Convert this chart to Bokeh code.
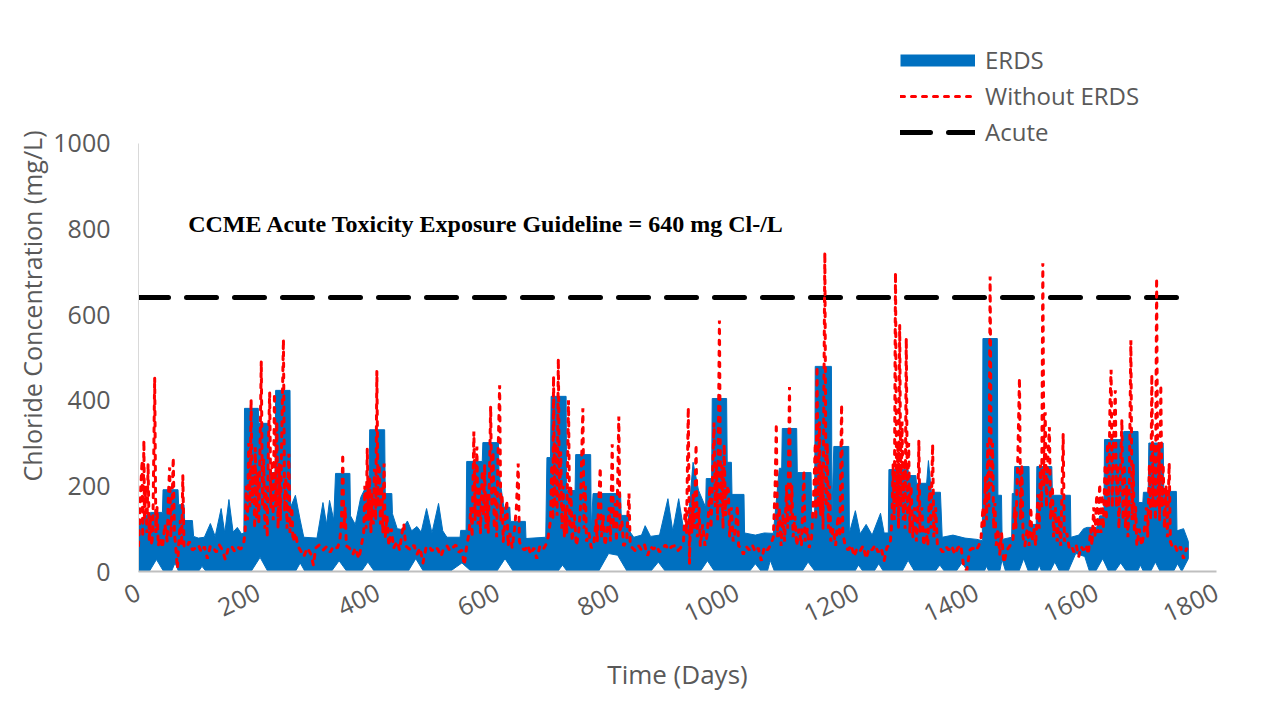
from bokeh.plotting import figure
from bokeh.models import Label, Legend, LegendItem, SingleIntervalTicker, Range1d
from bokeh.embed import file_html
from bokeh.resources import INLINE

# ---------------- data ----------------
# ERDS: upper edge of the blue band (day, mg/L)
erds_upper = [
    (0, 105), (12, 130), (20, 138), (40, 138), (41, 191), (66, 191), (67, 156), (76, 156),
    (77, 119), (90, 119), (92, 82), (100, 78), (110, 80), (120, 112), (128, 82), (138, 147),
    (144, 90), (151, 168), (158, 92), (165, 103), (172, 88), (176, 90), (177, 381), (200, 381),
    (201, 346), (217, 346), (218, 231), (228, 231), (229, 423), (253, 423), (254, 150), (262, 178),
    (270, 120), (276, 80), (298, 78), (308, 161), (314, 110), (319, 166), (326, 120), (329, 229),
    (353, 229), (354, 130), (362, 110), (371, 173), (385, 213), (386, 331), (411, 331), (412, 182),
    (423, 182), (424, 135), (432, 100), (440, 98), (449, 118), (456, 95), (465, 105), (472, 92),
    (481, 147), (490, 90), (501, 159), (508, 95), (515, 80), (537, 80), (538, 96), (547, 96),
    (548, 257), (574, 257), (575, 301), (601, 301), (602, 230), (610, 150), (620, 150), (621, 117),
    (646, 117), (647, 77), (680, 80), (682, 266), (688, 266), (689, 409), (714, 409), (715, 189),
    (729, 189), (730, 273), (755, 273), (756, 100), (759, 182), (805, 182), (806, 131), (818, 131),
    (819, 96), (827, 80), (840, 85), (846, 107), (855, 82), (870, 85), (884, 170), (892, 95),
    (902, 170), (910, 100), (918, 120), (926, 255), (935, 190), (947, 150), (948, 217), (957, 217),
    (958, 404), (982, 404), (983, 255), (990, 255), (991, 180), (1011, 180), (1012, 90), (1030, 85),
    (1045, 90), (1060, 89), (1070, 241), (1074, 241), (1075, 334), (1099, 334), (1100, 231),
    (1123, 231), (1124, 131), (1129, 131), (1130, 479), (1157, 479), (1158, 140), (1161, 292),
    (1186, 292), (1187, 90), (1197, 142), (1205, 88), (1215, 110), (1225, 85), (1239, 136),
    (1245, 90), (1252, 90), (1253, 238), (1285, 238), (1286, 224), (1298, 224), (1299, 206),
    (1316, 206), (1319, 259), (1324, 185), (1339, 185), (1342, 80), (1360, 85), (1380, 78),
    (1400, 75), (1409, 72), (1410, 544), (1434, 544), (1435, 178), (1441, 178), (1442, 75),
    (1458, 80), (1459, 182), (1462, 182), (1463, 245), (1487, 245), (1488, 110), (1499, 110),
    (1500, 245), (1525, 245), (1526, 178), (1556, 178), (1557, 80), (1570, 85), (1578, 100),
    (1584, 103), (1600, 103), (1605, 130), (1612, 130), (1613, 308), (1644, 308), (1645, 327),
    (1669, 327), (1670, 161), (1677, 161), (1678, 185), (1686, 185), (1687, 300), (1711, 300),
    (1712, 187), (1733, 187), (1734, 95), (1745, 100), (1753, 70),
]
# ERDS: lower edge of the blue band (day, mg/L)
erds_lower = [
    (0, 0), (18, 0), (30, 28), (42, 0), (55, 0), (61, 20), (67, 0), (100, 0), (106, 12), (113, 0),
    (188, 0), (203, 33), (216, 0), (262, 0), (270, 20), (278, 0), (322, 0), (335, 25), (348, 0),
    (372, 0), (383, 22), (394, 0), (450, 0), (463, 30), (476, 0), (520, 0), (540, 20), (556, 0),
    (598, 0), (612, 30), (626, 0), (700, 0), (708, 15), (716, 0), (768, 0), (785, 42), (800, 38),
    (816, 0), (855, 0), (868, 22), (880, 0), (938, 0), (950, 25), (962, 0), (1020, 0), (1030, 18),
    (1040, 0), (1050, 0), (1055, 26), (1062, 0), (1108, 0), (1118, 22), (1130, 0), (1196, 0),
    (1202, 15), (1210, 0), (1228, 0), (1236, 18), (1244, 0), (1275, 0), (1285, 26), (1296, 0),
    (1330, 0), (1338, 15), (1346, 0), (1365, 0), (1375, 20), (1385, 0), (1412, 0), (1416, 12),
    (1420, 0), (1438, 0), (1442, 28), (1448, 0), (1470, 0), (1478, 30), (1486, 0), (1500, 0),
    (1504, 15), (1508, 0), (1522, 0), (1530, 22), (1538, 0), (1552, 0), (1565, 42), (1580, 35),
    (1588, 0), (1598, 0), (1610, 30), (1620, 0), (1630, 0), (1640, 20), (1650, 0), (1668, 0),
    (1673, 15), (1678, 0), (1690, 0), (1698, 22), (1706, 0), (1728, 0), (1735, 18), (1742, 0),
    (1753, 30),
]
# Without ERDS (day, mg/L)
without_erds = [
    (0, 60), (2, 120), (4, 200), (6, 259), (7, 80), (8, 180), (9, 306), (10, 120), (12, 200), (14, 90),
    (16, 252), (18, 70), (20, 130), (22, 60), (24, 100), (27, 453), (29, 90), (31, 150), (33, 60),
    (36, 80), (40, 55), (44, 110), (48, 70), (50, 180), (52, 243), (54, 80), (56, 150), (58, 266),
    (60, 90), (62, 60), (65, 7), (67, 60), (70, 120), (72, 60), (74, 224), (76, 60), (80, 55), (85, 70),
    (90, 50), (95, 55), (100, 62), (105, 45), (110, 58), (115, 30), (120, 60), (125, 55), (130, 45),
    (135, 62), (140, 50), (145, 28), (150, 55), (155, 60), (160, 48), (165, 58), (170, 52), (175, 60),
    (178, 90), (180, 200), (182, 120), (184, 300), (186, 150), (188, 402), (190, 160), (192, 250),
    (194, 100), (195, 290), (197, 120), (199, 230), (201, 110), (203, 300), (205, 491), (207, 150),
    (209, 260), (211, 100), (213, 200), (215, 80), (217, 300), (219, 418), (221, 150), (223, 260),
    (225, 120), (227, 416), (229, 150), (231, 350), (233, 100), (235, 250), (237, 120), (239, 300),
    (242, 542), (244, 140), (246, 220), (248, 100), (251, 275), (253, 90), (256, 150), (258, 70),
    (262, 90), (266, 60), (270, 50), (276, 35), (282, 55), (288, 40), (292, 15), (296, 55), (302, 62),
    (308, 50), (314, 58), (320, 45), (326, 60), (332, 55), (336, 70), (339, 120), (341, 275),
    (343, 100), (345, 150), (347, 60), (352, 55), (358, 40), (362, 55), (368, 30), (372, 60),
    (376, 90), (378, 200), (380, 100), (382, 287), (384, 120), (386, 220), (388, 90), (390, 180),
    (392, 110), (394, 240), (396, 120), (398, 468), (400, 150), (402, 250), (404, 110), (406, 200),
    (408, 90), (410, 252), (412, 80), (415, 130), (418, 60), (422, 100), (426, 55), (432, 70),
    (436, 50), (440, 90), (443, 112), (446, 60), (450, 55), (455, 50), (460, 62), (465, 40), (470, 55),
    (475, 20), (480, 55), (485, 60), (490, 48), (495, 58), (500, 52), (505, 35), (510, 55), (515, 60),
    (520, 48), (525, 56), (530, 62), (535, 45), (540, 50), (544, 15), (548, 60), (552, 90), (555, 150),
    (557, 80), (560, 327), (562, 120), (565, 292), (567, 110), (569, 200), (571, 90), (574, 236),
    (576, 130), (578, 250), (580, 100), (582, 180), (584, 90), (586, 220), (588, 386), (590, 150),
    (592, 280), (594, 100), (596, 200), (598, 80), (600, 250), (603, 435), (605, 120), (607, 180),
    (609, 70), (612, 120), (615, 166), (617, 60), (620, 90), (624, 55), (628, 100), (631, 150),
    (634, 252), (636, 70), (640, 55), (645, 50), (650, 62), (655, 40), (660, 55), (665, 30), (670, 58),
    (675, 50), (680, 62), (684, 80), (688, 120), (690, 250), (692, 120), (693, 456), (695, 150),
    (697, 300), (699, 130), (701, 497), (703, 160), (705, 280), (707, 100), (709, 200), (711, 80),
    (713, 150), (715, 90), (718, 400), (720, 100), (722, 200), (724, 70), (728, 130), (731, 60),
    (735, 90), (738, 150), (742, 381), (744, 100), (746, 200), (748, 70), (752, 90), (756, 55),
    (760, 60), (764, 120), (766, 70), (768, 150), (771, 243), (773, 80), (776, 130), (779, 60),
    (783, 100), (786, 150), (788, 70), (791, 297), (793, 100), (796, 160), (798, 70), (800, 200),
    (802, 362), (804, 90), (807, 120), (810, 60), (815, 70), (819, 182), (821, 60), (825, 55),
    (830, 48), (835, 60), (840, 50), (845, 62), (850, 37), (855, 58), (860, 52), (865, 60), (870, 45),
    (875, 55), (880, 62), (885, 50), (890, 58), (895, 60), (900, 48), (905, 55), (910, 70), (913, 150),
    (915, 90), (918, 383), (920, 19), (922, 150), (924, 90), (926, 180), (928, 100), (931, 297),
    (933, 80), (936, 150), (938, 60), (942, 110), (946, 60), (950, 90), (954, 200), (956, 100),
    (959, 250), (961, 348), (963, 150), (965, 250), (967, 120), (970, 586), (972, 150), (974, 250),
    (976, 100), (978, 297), (980, 130), (982, 200), (985, 190), (987, 80), (990, 150), (993, 70),
    (997, 100), (1000, 154), (1002, 60), (1006, 55), (1010, 40), (1015, 58), (1020, 50), (1025, 62),
    (1030, 45), (1035, 55), (1040, 25), (1045, 58), (1050, 50), (1055, 60), (1060, 80), (1063, 200),
    (1065, 346), (1067, 80), (1070, 150), (1073, 60), (1076, 130), (1079, 70), (1082, 200),
    (1084, 100), (1087, 431), (1089, 120), (1091, 200), (1093, 80), (1096, 130), (1099, 60),
    (1103, 100), (1107, 60), (1111, 236), (1113, 70), (1117, 100), (1120, 55), (1124, 80),
    (1128, 200), (1130, 300), (1131, 120), (1133, 479), (1135, 150), (1137, 350), (1139, 130),
    (1141, 250), (1143, 100), (1146, 745), (1148, 150), (1150, 300), (1152, 100), (1154, 200),
    (1156, 70), (1160, 100), (1164, 60), (1168, 130), (1171, 80), (1174, 390), (1176, 90), (1180, 60),
    (1185, 50), (1190, 62), (1195, 35), (1200, 55), (1205, 48), (1210, 60), (1215, 30), (1220, 55),
    (1225, 50), (1230, 62), (1235, 45), (1240, 55), (1245, 25), (1250, 58), (1255, 60), (1258, 120),
    (1260, 250), (1262, 120), (1264, 698), (1266, 150), (1268, 300), (1269, 100), (1271, 575),
    (1273, 150), (1275, 350), (1277, 120), (1279, 250), (1280, 100), (1282, 545), (1284, 130),
    (1286, 300), (1288, 90), (1290, 200), (1293, 80), (1296, 150), (1299, 70), (1301, 120),
    (1303, 306), (1305, 90), (1308, 150), (1311, 60), (1315, 100), (1318, 60), (1321, 200),
    (1323, 100), (1326, 297), (1328, 80), (1331, 150), (1334, 60), (1338, 55), (1343, 45), (1348, 58),
    (1353, 50), (1358, 60), (1363, 40), (1368, 55), (1373, 62), (1378, 10), (1383, 2), (1388, 50),
    (1393, 55), (1398, 48), (1403, 60), (1407, 80), (1410, 150), (1412, 100), (1414, 220), (1416, 120),
    (1418, 300), (1420, 150), (1422, 689), (1424, 200), (1426, 300), (1428, 100), (1430, 160),
    (1432, 60), (1435, 100), (1438, 40), (1441, 90), (1445, 20), (1450, 50), (1455, 60), (1460, 70),
    (1463, 150), (1465, 100), (1468, 250), (1471, 452), (1473, 120), (1475, 250), (1477, 80),
    (1480, 60), (1484, 100), (1487, 60), (1490, 150), (1492, 70), (1495, 100), (1498, 60), (1502, 180),
    (1504, 100), (1506, 250), (1508, 150), (1510, 720), (1512, 200), (1514, 372), (1516, 150),
    (1518, 250), (1521, 337), (1523, 120), (1526, 200), (1528, 80), (1531, 150), (1534, 70),
    (1537, 130), (1540, 60), (1544, 322), (1546, 70), (1550, 90), (1554, 55), (1558, 60), (1562, 45),
    (1566, 60), (1570, 35), (1574, 58), (1578, 50), (1582, 62), (1586, 40), (1590, 100), (1592, 60),
    (1595, 150), (1597, 80), (1600, 180), (1602, 90), (1605, 205), (1607, 90), (1609, 180),
    (1611, 100), (1614, 250), (1616, 120), (1618, 300), (1620, 150), (1622, 380), (1624, 471),
    (1626, 150), (1628, 300), (1631, 423), (1633, 150), (1635, 250), (1637, 100), (1639, 200),
    (1642, 355), (1644, 120), (1646, 250), (1648, 100), (1650, 200), (1652, 80), (1654, 150),
    (1657, 540), (1659, 120), (1661, 250), (1663, 90), (1665, 150), (1667, 60), (1671, 100),
    (1675, 60), (1679, 90), (1683, 150), (1685, 80), (1688, 250), (1690, 120), (1692, 460),
    (1694, 150), (1696, 300), (1698, 120), (1700, 685), (1702, 150), (1704, 300), (1705, 120),
    (1707, 436), (1709, 150), (1711, 250), (1713, 100), (1716, 200), (1718, 80), (1721, 253),
    (1723, 70), (1727, 55), (1731, 60), (1735, 45), (1740, 58), (1745, 30), (1750, 55), (1753, 40),
]
acute_level = 640
acute_span = [0, 1753]

x_ticks_interval = 200
y_ticks_interval = 200
x_limits = (0, 1800)
y_axis_bounds = (0, 1000)
y_view_top = 1240   # extra head-room above the axis so the legend sits inside the frame

title_x = "Time (Days)"
title_y = "Chloride Concentration (mg/L)"
note_text = "CCME Acute Toxicity Exposure Guideline = 640 mg Cl-/L"
note_pos = (83, 811)

# ---------------- figure ----------------
BLUE = "#0070C0"
GREY = "#595959"
FONT = "Open Sans"

p = figure(width=1266, height=713, output_backend="svg", toolbar_location=None,
           x_range=Range1d(*x_limits), y_range=Range1d(0, y_view_top),
           min_border_left=138, min_border_right=50, min_border_top=40, min_border_bottom=142)
p.outline_line_color = None
p.grid.visible = False
p.background_fill_color = "white"
p.border_fill_color = "white"
# a range nobody sees, used only so the ERDS legend key can be drawn as a thick line
p.extra_y_ranges = {"legend_key": Range1d(5000, 6000)}

# ERDS band
up_x = [d for d, _ in erds_upper]
up_y = [v for _, v in erds_upper]
lo_x = [d for d, _ in erds_lower]
lo_y = [v for _, v in erds_lower]
p.patch(up_x + lo_x[::-1], up_y + lo_y[::-1], fill_color=BLUE, line_color=BLUE, line_width=1)
erds_key = p.line(up_x, up_y, line_color=BLUE, line_width=12, y_range_name="legend_key")

# Acute
acute_r = p.line(acute_span, [acute_level] * len(acute_span), line_color="black", line_width=5,
                 line_dash="30 18", line_cap="round")

# Without ERDS
red_x = [d for d, _ in without_erds]
red_y = [v for _, v in without_erds]
red_r = p.line(red_x, red_y, line_color="#FF0000", line_width=3, line_dash="4 7", line_cap="round")

# Axes
for ax in (p.xaxis[0], p.yaxis[0]):
    ax.major_tick_line_color = None
    ax.minor_tick_line_color = None
    ax.major_tick_out = 0
    ax.major_tick_in = 0
    ax.minor_tick_out = 0
    ax.minor_tick_in = 0
    ax.major_label_text_color = GREY
    ax.major_label_text_font = FONT
    ax.major_label_text_font_size = "25px"
    ax.axis_label_text_color = GREY
    ax.axis_label_text_font = FONT
    ax.axis_label_text_font_style = "normal"

p.xaxis.ticker = SingleIntervalTicker(interval=x_ticks_interval)
p.yaxis.ticker = SingleIntervalTicker(interval=y_ticks_interval)
p.yaxis.bounds = y_axis_bounds
p.xaxis.axis_line_color = "#bfbfbf"
p.xaxis.axis_line_width = 2
p.yaxis.axis_line_color = "#d9d9d9"
p.xaxis.major_label_orientation = 0.44
p.xaxis.major_label_standoff = 19
p.yaxis.major_label_standoff = 28
p.xaxis.axis_label = title_x
p.yaxis.axis_label = title_y
p.xaxis.axis_label_text_font_size = "26px"
p.yaxis.axis_label_text_font_size = "25px"
p.xaxis.axis_label_standoff = 22
p.yaxis.axis_label_standoff = 1

# Note
p.add_layout(Label(x=note_pos[0], y=note_pos[1], text=note_text, text_font="Liberation Serif",
                   text_font_style="bold", text_font_size="24px", text_baseline="middle",
                   text_color="black"))

# Legend
legend = Legend(items=[LegendItem(label="ERDS", renderers=[erds_key]),
                       LegendItem(label="Without ERDS", renderers=[red_r]),
                       LegendItem(label="Acute", renderers=[acute_r])],
                location=(762, 423), orientation="vertical",
                glyph_width=75, glyph_height=30, label_height=30, spacing=3,
                label_standoff=10, padding=0, margin=0,
                label_text_font=FONT, label_text_font_size="24px", label_text_color=GREY,
                background_fill_alpha=0, border_line_alpha=0)
p.add_layout(legend, "center")

open("out.html", "w").write(file_html(p, INLINE))
